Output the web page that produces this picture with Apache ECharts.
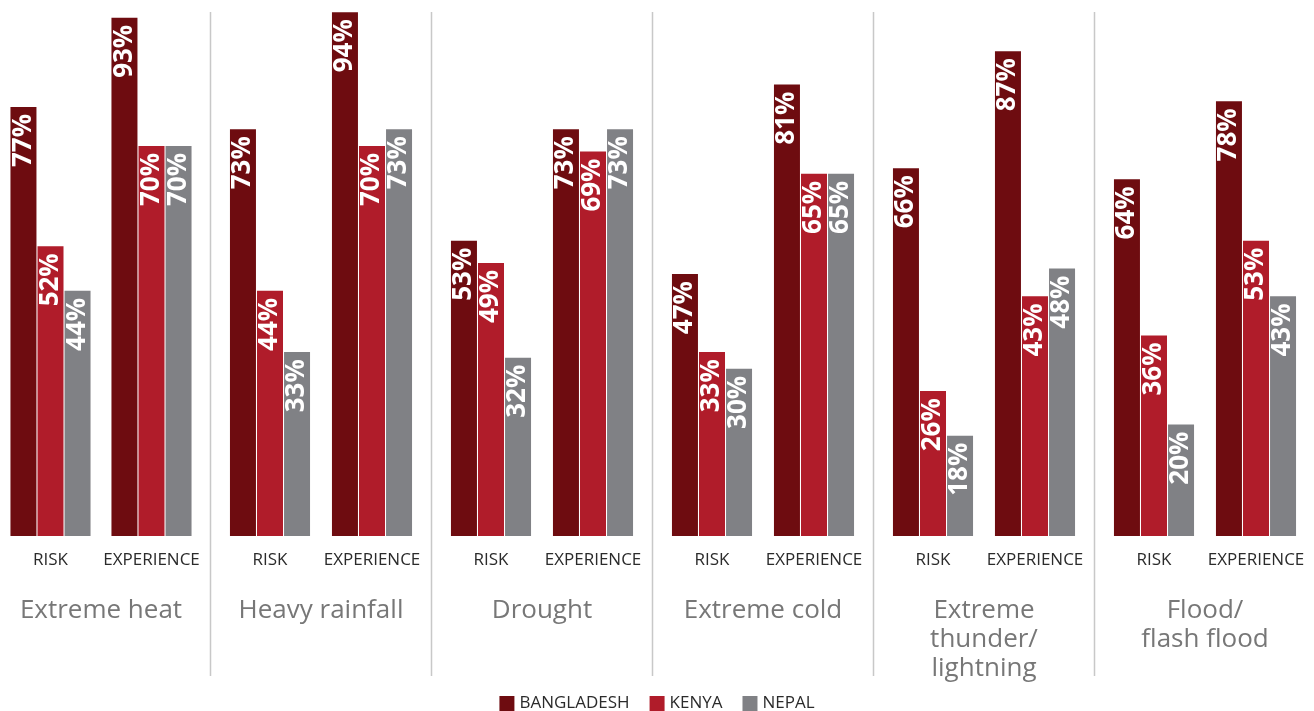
<!DOCTYPE html>
<html>
<head>
<meta charset="utf-8">
<script src="https://cdn.jsdelivr.net/npm/echarts@6/dist/echarts.min.js"></script>
<style>
  html, body { margin: 0; padding: 0; background: #fff; }
  #chart { width: 1314px; height: 711px; }
</style>
</head>
<body>
<div id="chart"></div>
<script>
// hazards, each split into RISK / EXPERIENCE
const groups = ['Extreme heat', 'Heavy rainfall', 'Drought', 'Extreme cold', 'Extreme\nthunder/\nlightning', 'Flood/\nflash flood'];
const subCategories = ['RISK', 'EXPERIENCE'];
const countries = ['BANGLADESH', 'KENYA', 'NEPAL'];
// values in order: heat risk, heat exp, rainfall risk, rainfall exp, ...
const bangladesh = [77, 93, 73, 94, 53, 73, 47, 81, 66, 87, 64, 78];
const kenya      = [52, 70, 44, 70, 49, 69, 33, 65, 26, 43, 36, 53];
const nepal      = [44, 70, 33, 73, 32, 73, 30, 65, 18, 48, 20, 43];

const colors = ['#6e0c10', '#b01c2a', '#808185'];
const font = '"Open Sans", "Noto Sans", sans-serif';

const chart = echarts.init(document.getElementById('chart'));

const groupStep = 221;
const gridWidth = 204;
const firstLeft = -2;

const grids = [], xAxes = [], yAxes = [], series = [], graphics = [];
const seriesData = [bangladesh, kenya, nepal];

groups.forEach((g, i) => {
  grids.push({ left: firstLeft + groupStep * i, width: gridWidth, top: 1, bottom: 175 });
  xAxes.push({
    type: 'category',
    gridIndex: i,
    data: subCategories,
    axisLine: { show: false },
    axisTick: { show: false },
    axisLabel: { interval: 0, margin: 16, fontSize: 17, color: '#2b2b2b', fontFamily: font },
    name: g,
    nameLocation: 'middle',
    nameGap: 60,
    nameTextStyle: { fontSize: 26, lineHeight: 29, color: '#777', fontFamily: font }
  });
  yAxes.push({
    type: 'value',
    gridIndex: i,
    min: 0,
    max: 96,
    show: false,
    splitLine: { show: false }
  });
  countries.forEach((c, k) => {
    series.push({
      name: c,
      type: 'bar',
      xAxisIndex: i,
      yAxisIndex: i,
      data: seriesData[k].slice(i * 2, i * 2 + 2),
      barWidth: 26,
      barGap: '4%',
      itemStyle: { color: colors[k] },
      label: {
        show: true,
        position: 'insideTop',
        rotate: 90,
        align: 'right',
        verticalAlign: 'middle',
        distance: 7,
        formatter: '{c}%',
        color: '#fff',
        fontSize: 26,
        fontWeight: 'bold',
        fontFamily: font
      }
    });
  });
  if (i < groups.length - 1) {
    const x = firstLeft + groupStep * i + gridWidth + (groupStep - gridWidth) / 2;
    graphics.push({
      type: 'line',
      shape: { x1: x, y1: 12, x2: x, y2: 676 },
      style: { stroke: '#c8c8c8', lineWidth: 1.5 }
    });
  }
});

chart.setOption({
  animation: false,
  grid: grids,
  xAxis: xAxes,
  yAxis: yAxes,
  series: series,
  graphic: graphics,
  legend: {
    data: countries,
    top: 695,
    left: 'center',
    padding: 0,
    icon: 'rect',
    itemWidth: 15,
    itemHeight: 15,
    itemGap: 20,
    textStyle: { fontSize: 17, color: '#2b2b2b', fontFamily: font }
  }
});
</script>
</body>
</html>
